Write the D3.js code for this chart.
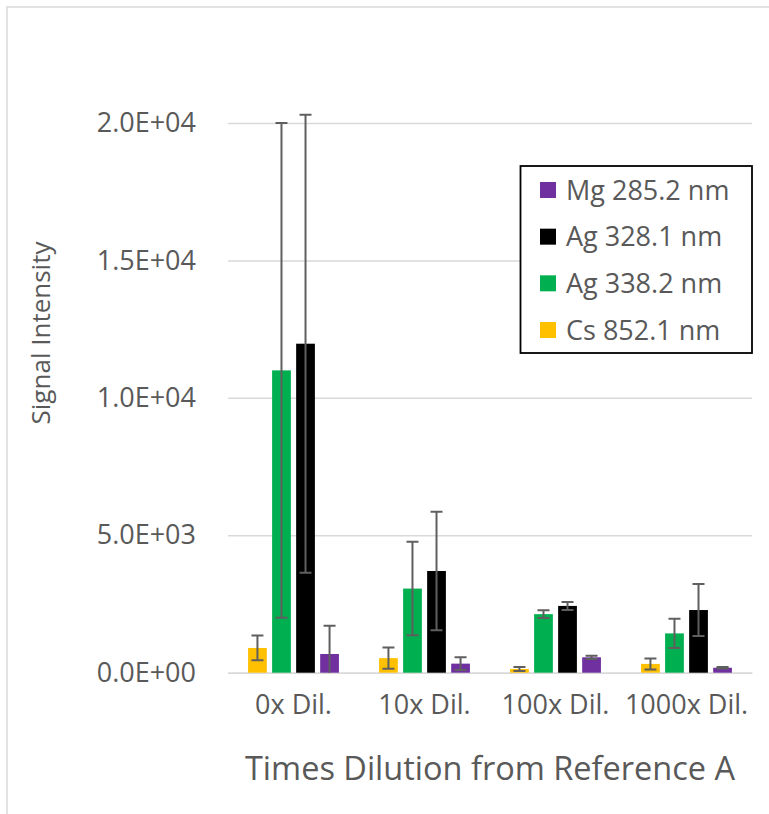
<!DOCTYPE html>
<html>
<head>
<meta charset="utf-8">
<script src="https://cdn.jsdelivr.net/npm/d3@7"></script>
<style>
  html, body { margin: 0; padding: 0; background: #fff; }
  svg { display: block; }
  text { font-family: "Open Sans", "Noto Sans", sans-serif; fill: #595959; }
</style>
</head>
<body>
<svg id="chart" width="769" height="814"></svg>
<script>
// Dilution levels on the x axis
const categories = ["0x Dil.", "10x Dil.", "100x Dil.", "1000x Dil."];

// Emission lines, in drawing order within each group
const seriesNames = ["Cs 852.1 nm", "Ag 338.2 nm", "Ag 328.1 nm", "Mg 285.2 nm"];
const seriesColors = ["#FFC000", "#00B050", "#000000", "#7030A0"];

// Mean signal intensity per line and dilution
const csValues    = [900, 530, 135, 320];
const ag338Values = [11000, 3060, 2130, 1430];
const ag328Values = [11970, 3700, 2430, 2280];
const mgValues    = [680, 330, 560, 180];

// Standard deviations (error bars)
const csErrors    = [450, 390, 70, 200];
const ag338Errors = [9000, 1700, 140, 530];
const ag328Errors = [8330, 2160, 145, 945];
const mgErrors    = [1030, 230, 60, 25];

// Y axis ticks
const yTicks = [0, 5000, 10000, 15000, 20000];

const valueSets = [csValues, ag338Values, ag328Values, mgValues];
const errorSets = [csErrors, ag338Errors, ag328Errors, mgErrors];

const svg = d3.select("#chart");

// chart frame
svg.append("rect")
  .attr("x", 7).attr("y", 7)
  .attr("width", 800).attr("height", 840)
  .attr("fill", "#fff")
  .attr("stroke", "#d9d9d9").attr("stroke-width", 1.5);

const plot = { left: 228, right: 752, top: 123, bottom: 672.7 };

const x0 = d3.scaleBand().domain(categories).range([plot.left, plot.right]).padding(0);
const x1 = d3.scaleBand().domain(seriesNames).range([0, x0.bandwidth()])
  .paddingInner(0.22).paddingOuter(0.835);
const y = d3.scaleLinear().domain([0, 20000]).range([plot.bottom, plot.top]);

// 2.0E+04 style labels
function sciFormat(v) {
  const s = d3.format(".1e")(v);          // e.g. "2.0e+4"
  const m = s.match(/^(-?[\d.]+)e([+-])(\d+)$/);
  const exp = m[3].padStart(2, "0");
  return m[1] + "E" + m[2] + exp;
}

// gridlines + tick labels via a left axis
const yAxis = d3.axisLeft(y)
  .tickValues(yTicks)
  .tickFormat(sciFormat)
  .tickSize(-(plot.right - plot.left))
  .tickPadding(32);

const gy = svg.append("g")
  .attr("transform", `translate(${plot.left},0)`)
  .call(yAxis);
gy.select(".domain").remove();
gy.selectAll(".tick line").attr("stroke", "#d9d9d9").attr("stroke-width", 1.5);
gy.selectAll(".tick text")
  .attr("fill", "#595959")
  .style("font-size", "27px")
  .style("font-family", "'Open Sans', sans-serif");

// bottom axis labels
const xAxis = d3.axisBottom(x0).tickSize(0).tickPadding(22);
const gx = svg.append("g")
  .attr("transform", `translate(0,${plot.bottom})`)
  .call(xAxis);
gx.select(".domain").attr("stroke", "#d9d9d9").attr("stroke-width", 1.5);
gx.selectAll(".tick text")
  .attr("fill", "#595959")
  .style("font-size", "27px")
  .style("font-family", "'Open Sans', sans-serif");

// bars
svg.append("clipPath").attr("id", "plotClip")
  .append("rect")
  .attr("x", plot.left).attr("y", 0)
  .attr("width", plot.right - plot.left).attr("height", plot.bottom);

const groups = svg.append("g").selectAll("g")
  .data(categories)
  .join("g")
  .attr("transform", d => `translate(${x0(d)},0)`);

seriesNames.forEach((name, si) => {
  const recs = categories.map((c, ci) => ({ c, ci, v: valueSets[si][ci], e: errorSets[si][ci] }));
  groups.append("rect")
    .datum((c, ci) => recs[ci])
    .attr("x", x1(name))
    .attr("width", x1.bandwidth())
    .attr("y", d => y(d.v))
    .attr("height", d => y(0) - y(d.v))
    .attr("fill", seriesColors[si]);
});

// error bars
const errLayer = svg.append("g").attr("clip-path", "url(#plotClip)");
seriesNames.forEach((name, si) => {
  categories.forEach((c, ci) => {
    const v = valueSets[si][ci], e = errorSets[si][ci];
    const cx = x0(c) + x1(name) + x1.bandwidth() / 2;
    const g = errLayer.append("g").attr("stroke", "#5f5f5f").attr("stroke-width", 2);
    g.append("line").attr("x1", cx).attr("x2", cx).attr("y1", y(v - e)).attr("y2", y(v + e));
    g.append("line").attr("x1", cx - 6).attr("x2", cx + 6).attr("y1", y(v + e)).attr("y2", y(v + e));
    g.append("line").attr("x1", cx - 6).attr("x2", cx + 6).attr("y1", y(v - e)).attr("y2", y(v - e));
  });
});

// axis titles
svg.append("text")
  .attr("x", 490).attr("y", 780)
  .attr("text-anchor", "middle")
  .style("font-size", "32.5px")
  .text("Times Dilution from Reference A");

svg.append("text")
  .attr("transform", "translate(50,333) rotate(-90)")
  .attr("text-anchor", "middle")
  .style("font-size", "26px")
  .text("Signal Intensity");

// legend (series listed in reverse order)
const legend = svg.append("g");
legend.append("rect")
  .attr("x", 520.5).attr("y", 166)
  .attr("width", 231.5).attr("height", 187)
  .attr("fill", "#fff")
  .attr("stroke", "#000").attr("stroke-width", 1.8);

const legendOrder = d3.range(seriesNames.length).reverse();
const legendY = d3.scalePoint().domain(legendOrder).range([190, 330]);
legendOrder.forEach(si => {
  const cy = legendY(si);
  legend.append("rect")
    .attr("x", 540).attr("y", cy - 8)
    .attr("width", 16).attr("height", 16)
    .attr("fill", seriesColors[si]);
  legend.append("text")
    .attr("x", 566).attr("y", cy)
    .attr("dy", "0.36em")
    .style("font-size", "27px")
    .text(seriesNames[si]);
});
</script>
</body>
</html>
